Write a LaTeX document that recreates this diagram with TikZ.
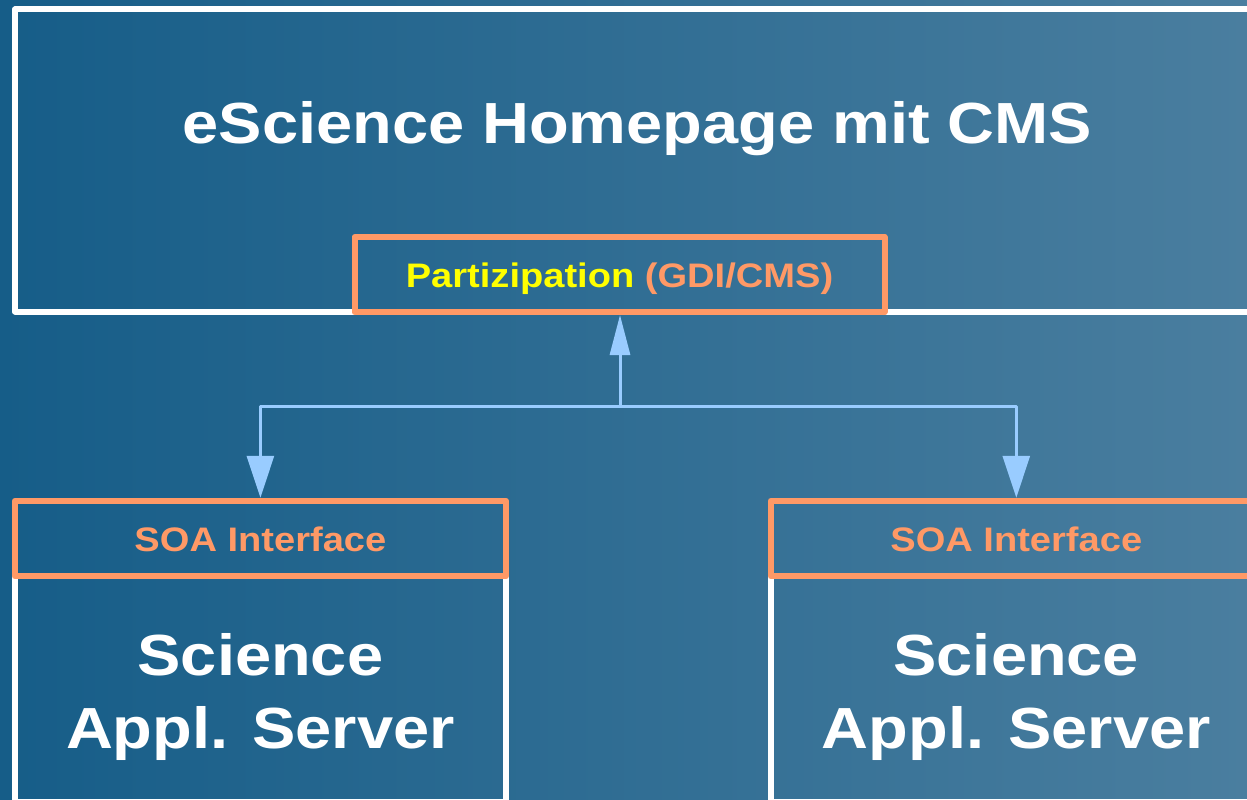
\documentclass[tikz,border=0pt]{standalone}
\usepackage{fontspec}
\setmainfont{Liberation Sans}[FakeStretch=1.12]
\usetikzlibrary{arrows.meta,positioning}
\definecolor{bgleft}{HTML}{165D88}
\definecolor{bgright}{HTML}{4A7E9F}
\definecolor{ifcolor}{HTML}{FF9966}
\definecolor{linkcolor}{HTML}{99CCFF}
\definecolor{partcolor}{HTML}{FFFF00}

\begin{document}
\begin{tikzpicture}[x=1pt,y=-1pt,line join=round,
  frame/.style={draw=white,line width=6pt,inner sep=0pt},
  iface/.style={draw=ifcolor,line width=6pt,inner sep=0pt,text=ifcolor,
    text height=26pt,text depth=0pt,font=\bfseries\fontsize{34}{40}\selectfont},
  biglabel/.style={text=white,anchor=base,align=center,inner sep=0pt,
    font=\bfseries\fontsize{58}{73}\selectfont},
  link/.style={draw=linkcolor,line width=3pt}]
  \useasboundingbox (0,0) rectangle (1247,800);
  \clip (0,0) rectangle (1247,800);
  \shade[left color=bgleft,right color=bgright] (0,0) rectangle (1247,800);

  % white frames
  \node[frame,minimum width=1245pt,minimum height=302pt] (home) at (637.5,160.5) {};
  \node[frame,minimum width=491pt,minimum height=226pt] (srvL) at (260.4,689) {};
  \node[frame,minimum width=491pt,minimum height=226pt] (srvR) at (1016.3,689) {};

  % interfaces
  \node[iface,minimum width=530pt,minimum height=75pt] (part) at (619.5,274.5)
    {\textcolor{partcolor}{Partizipation} (GDI/CMS)};
  \node[iface,minimum width=491pt,minimum height=75.5pt] (soaL) at (260.4,538.5) {SOA Interface};
  \node[iface,minimum width=491pt,minimum height=75.5pt] (soaR) at (1016.3,538.5) {SOA Interface};

  % labels
  \node[biglabel] (homelabel) at (637.5,143) {eScience Homepage mit CMS};
  \node[biglabel] (srvLlabel) at (260.4,748) {Science\\Appl. Server};
  \node[biglabel] (srvRlabel) at (1016.3,748) {Science\\Appl. Server};

  % connectors
  \coordinate (fork) at (620,406);
  \draw[link,-{Triangle[width=20pt,length=40pt]}] (fork) -- (fork |- part.south);
  \draw[link,-{Triangle[width=27pt,length=42pt]}] (fork) -| (soaL.north);
  \draw[link,-{Triangle[width=27pt,length=42pt]}] (fork) -| (soaR.north);
\end{tikzpicture}
\end{document}
